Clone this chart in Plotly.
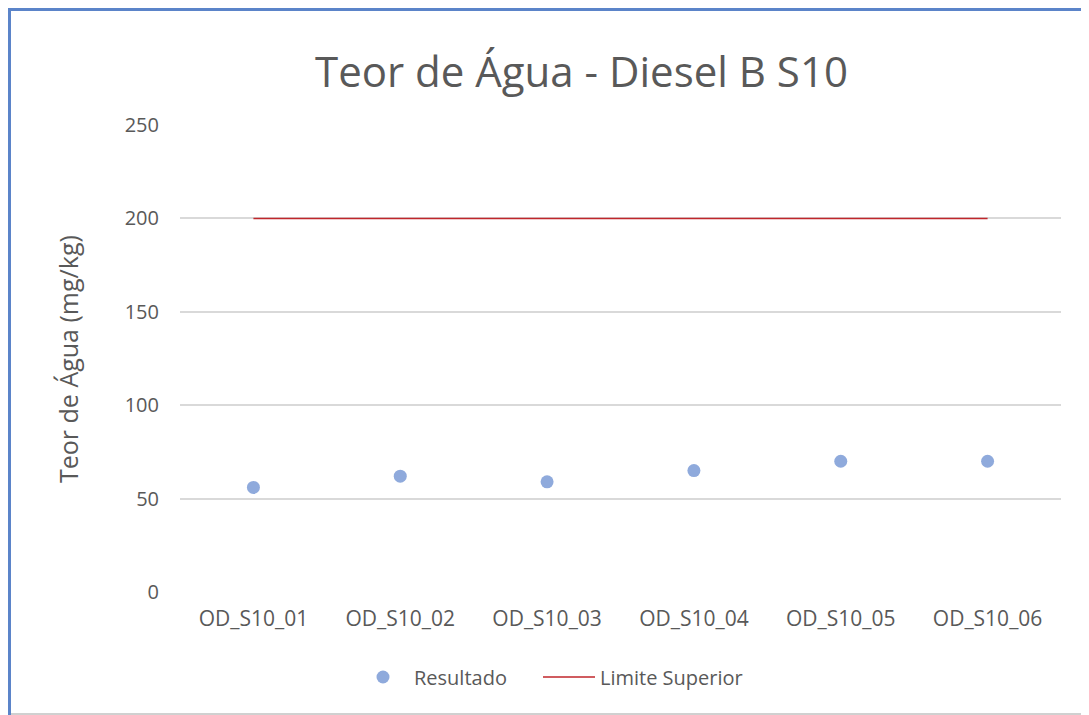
import plotly.graph_objects as go

categories = ["OD_S10_01", "OD_S10_02", "OD_S10_03", "OD_S10_04", "OD_S10_05", "OD_S10_06"]
resultado = [56, 62, 59, 65, 70, 70]
limite_superior = [200, 200, 200, 200, 200, 200]
y_ticks = [0, 50, 100, 150, 200, 250]

# page offset (body margin) compensation: target page px -> figure px = page - 8
OFF = 8
W, H = 1089, 715
L, R, T = 180 - OFF, 1089 - 1061 + OFF, 125 - OFF
B = H - (592 - OFF)
pw, ph = W - L - R, H - T - B

def px(x):
    return (x - OFF - L) / pw

def py(y):
    return (H - B - (y - OFF)) / ph

FONT = "Liberation Sans Narrow, Open Sans, sans-serif"
GREY = "#595959"

fig = go.Figure()
fig.add_trace(go.Scatter(
    x=categories, y=resultado, mode="markers", name="Resultado",
    marker=dict(color="#8FAADC", size=13), legend="legend",
))
fig.add_trace(go.Scatter(
    x=categories, y=limite_superior, mode="lines", name="Limite Superior",
    line=dict(color="#C0262B", width=1.5), legend="legend2",
))

leg_common = dict(orientation="h", xanchor="left", y=py(677), yanchor="middle",
                  font=dict(size=20, color=GREY), bgcolor="rgba(0,0,0,0)", itemwidth=52)

fig.update_layout(
    width=W, height=H,
    margin=dict(l=L, r=R, t=T, b=B),
    paper_bgcolor="white", plot_bgcolor="white",
    font=dict(family=FONT, color=GREY, size=20),
    showlegend=True,
    legend=dict(x=px(352), **leg_common),
    legend2=dict(x=px(538), **leg_common),
    xaxis=dict(type="category", range=[-0.5, 5.5], showgrid=False, showline=False,
               ticks="", tickfont=dict(size=21, color=GREY), ticklabelstandoff=12),
    yaxis=dict(range=[0, 250], tickvals=y_ticks, showgrid=True, gridcolor="#D9D9D9", gridwidth=1.5,
               zeroline=False, showline=False, ticks="", tickfont=dict(size=20, color=GREY),
               ticklabelstandoff=20),
    annotations=[
        dict(text="Teor de Água - Diesel B S10", xref="paper", yref="paper",
             x=px(581), y=py(70), xanchor="center", yanchor="middle", showarrow=False,
             font=dict(size=42, color=GREY, family=FONT)),
        dict(text="Teor de Água (mg/kg)", xref="paper", yref="paper",
             x=px(68), y=py(359), xanchor="center", yanchor="middle", showarrow=False,
             textangle=-90, font=dict(size=25, color=GREY, family=FONT)),
    ],
    shapes=[
        dict(type="line", xref="paper", yref="paper", x0=px(9.5), x1=px(9.5), y0=py(8), y1=py(723),
             line=dict(color="#5B84C9", width=3)),
        dict(type="line", xref="paper", yref="paper", x0=px(8), x1=px(1100), y0=py(9.5), y1=py(9.5),
             line=dict(color="#5B84C9", width=3)),
        dict(type="line", xref="paper", yref="paper", x0=px(11), x1=px(1100), y0=py(714), y1=py(714),
             line=dict(color="#D0D0D0", width=2)),
    ],
)

fig.write_html("out.html")
